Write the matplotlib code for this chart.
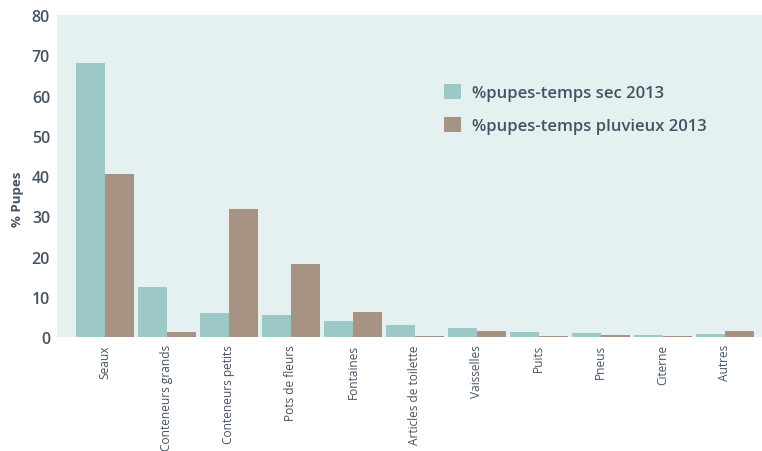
import numpy as np
import matplotlib
matplotlib.use("Agg")
import matplotlib.pyplot as plt

# === Données ===
categories = ["Seaux", "Conteneurs grands", "Conteneurs petits", "Pots de fleurs",
              "Fontaines", "Articles de toilette", "Vaisselles", "Puits", "Pneus",
              "Citerne", "Autres"]
sec_2013 = [68.2, 12.4, 6.0, 5.5, 4.0, 3.0, 2.2, 1.3, 1.0, 0.5, 0.8]
pluvieux_2013 = [40.4, 1.2, 31.8, 18.1, 6.2, 0.3, 1.5, 0.3, 0.5, 0.3, 1.5]
yticks = [0, 10, 20, 30, 40, 50, 60, 70, 80]

C_SEC = "#9dc8c8"
C_PLUV = "#a69383"
C_BG = "#e5f1f1"
C_TXT = "#465263"

plt.rcParams['font.family'] = ['Open Sans', 'DejaVu Sans']

fig = plt.figure(figsize=(7.62, 4.52), dpi=100)
ax = fig.add_axes([0.0748, 0.252, 0.9252, 0.7126])
ax.set_facecolor(C_BG)

x = np.arange(len(categories))
w = 0.468
ax.bar(x - w / 2, sec_2013, w, color=C_SEC, label="%pupes-temps sec 2013")
ax.bar(x + w / 2, pluvieux_2013, w, color=C_PLUV, label="%pupes-temps pluvieux 2013")

ax.set_xlim(-0.774, 10.6)
ax.set_ylim(0, 80)
ax.set_yticks(yticks)
ax.set_xticks(x)
ax.set_xticklabels(categories, rotation=90, fontsize=8.6, color=C_TXT,
                   fontweight="medium")
ax.tick_params(axis="y", length=0, labelsize=11.5, labelcolor=C_TXT, pad=5)
ax.tick_params(axis="x", length=0, pad=5)
for lab in ax.get_yticklabels():
    lab.set_fontweight("semibold")
for s in ax.spines.values():
    s.set_visible(False)

ax.set_ylabel("% Pupes", fontsize=9.5, color=C_TXT, fontweight="bold")
ax.yaxis.set_label_coords(-0.047, 0.43)

leg = ax.legend(loc="upper left", bbox_to_anchor=(0.549, 0.787), frameon=False,
                fontsize=12, handlelength=1.0, handleheight=1.0, borderpad=0,
                borderaxespad=0, handletextpad=0.65, labelspacing=0.95)
for t in leg.get_texts():
    t.set_color(C_TXT)
    t.set_fontweight("semibold")

fig.savefig("out.png", dpi=100)
